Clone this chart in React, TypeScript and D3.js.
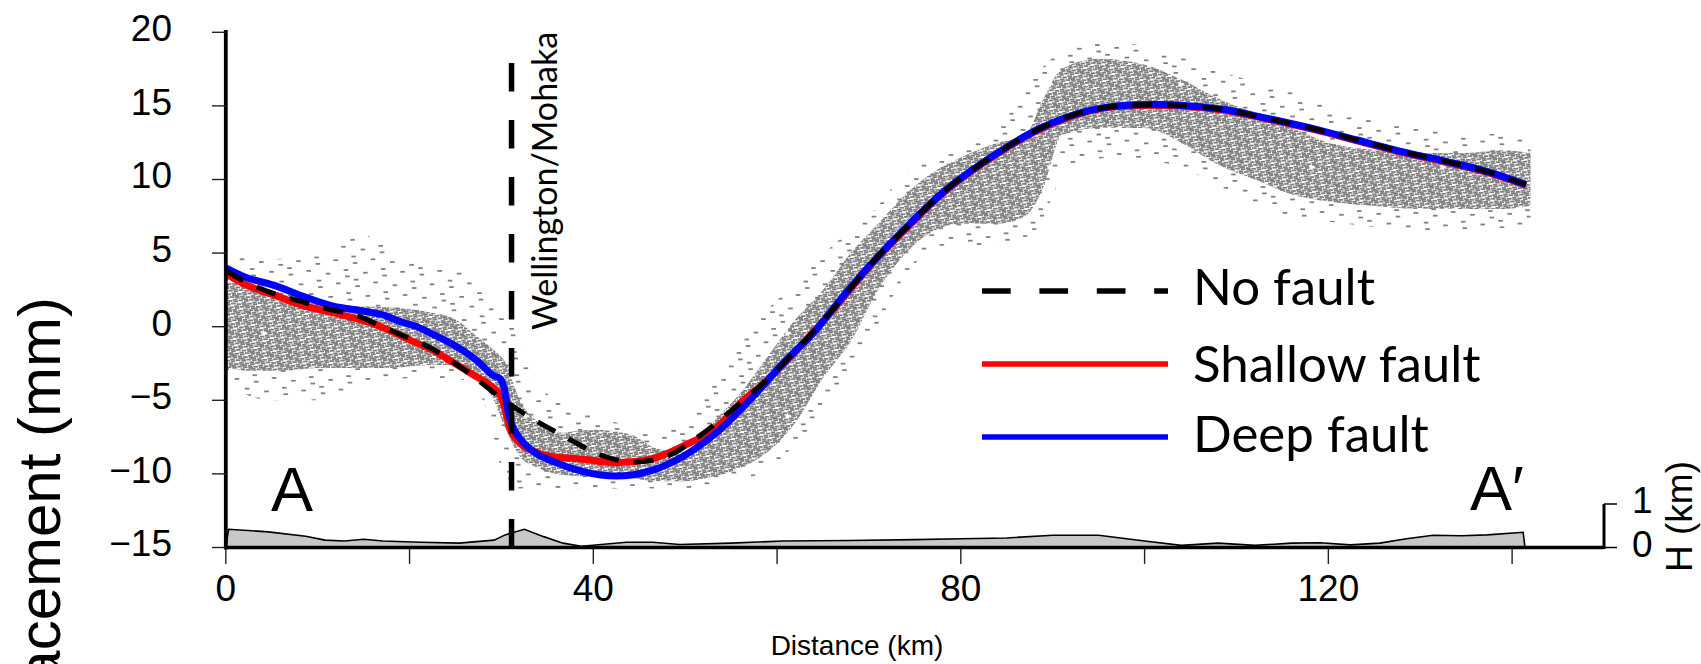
import React, { useEffect, useRef } from 'react';
import * as d3 from 'd3';

const W = 1701;
const H = 664;

// ---- model curves (distance km -> displacement mm) ----
const noFaultKm = [0, 2, 5, 8, 11.5, 14.5, 16.5, 20, 22, 24.5, 27, 29, 31, 33.5, 37, 40.7, 44.4, 48, 51.6, 55.2, 58.9, 62.5, 66.1, 70, 74, 78, 83, 88.7, 93.7, 97, 101, 105, 108.7, 113, 118.7, 123, 128, 133, 137.5, 141.5];
const noFaultMm = [3.8, 3.1, 2.3, 1.75, 1.15, 0.7, 0.15, -0.8, -1.35, -2.3, -3.4, -4.4, -5.3, -6.3, -7.5, -8.7, -9.2, -8.8, -7.4, -5.6, -3.6, -1.3, 1.2, 4.1, 6.7, 9.1, 11.4, 13.5, 14.65, 15.0, 15.1, 15.0, 14.75, 14.2, 13.4, 12.7, 11.9, 11.2, 10.5, 9.65];

const shallowKm = [0, 2, 5.5, 8.1, 12, 15.3, 18, 20, 22.5, 24.4, 27, 29.1, 29.8, 30.4, 30.9, 31.7, 33.5, 35.3, 38.9, 42.5, 46.2, 49.8, 53.4, 56, 58.9, 62.5, 66.1, 70, 74, 78, 83, 88.7, 93.7, 97, 101, 105, 108.7, 113, 118.7, 123, 128, 133, 137.5, 141.5];
const shallowMm = [3.6, 2.9, 2.1, 1.5, 0.9, 0.35, -0.3, -0.9, -1.6, -2.3, -3.3, -4.15, -4.6, -5.6, -6.9, -7.7, -8.45, -8.8, -9.0, -9.24, -9.0, -8.1, -6.86, -5.2, -3.65, -1.35, 1.15, 4.05, 6.65, 9.05, 11.35, 13.45, 14.6, 14.95, 15.05, 14.95, 14.7, 14.15, 13.35, 12.65, 11.85, 11.15, 10.45, 9.6];

const deepKm = [0, 2, 5.5, 8.5, 11.7, 14.5, 17.1, 19.2, 20.8, 22.5, 24.4, 26, 27.5, 29.2, 29.8, 30.3, 30.8, 31.4, 32.1, 33.5, 35.8, 38.9, 42.5, 46.2, 49.8, 53.4, 57.1, 60.7, 64.3, 66.9, 70, 74, 78, 83, 88.7, 93.7, 97, 101, 105, 108.7, 113, 118.7, 123, 128, 133, 137.5, 141.5];
const deepMm = [4.0, 3.4, 2.76, 2.05, 1.4, 1.1, 0.8, 0.3, 0.0, -0.5, -1.1, -1.7, -2.4, -3.35, -3.5, -4.2, -6.0, -7.0, -7.66, -8.5, -9.2, -9.85, -10.15, -9.8, -8.8, -7.2, -4.94, -2.45, -0.18, 1.85, 4.1, 6.7, 9.1, 11.4, 13.5, 14.65, 15.0, 15.1, 15.0, 14.75, 14.2, 13.4, 12.7, 11.9, 11.2, 10.5, 9.65];

// ---- observed scatter cloud envelope (km, mm) ----
const cloudKm = [0, 3, 6, 10, 14, 18, 22, 25, 27, 29, 30.5, 32, 34, 36, 40, 44, 47, 50, 53, 56, 59, 62, 65, 68, 71, 74, 77, 80, 84, 87, 89, 91, 95, 100, 104, 108, 112, 116, 120, 125, 130, 135, 139, 142];
const coreHi = [3.0, 2.8, 2.3, 1.8, 1.4, 1.3, 1.0, 0.5, -0.5, -1.5, -2.5, -5.0, -6.5, -7.2, -7.0, -7.3, -8.3, -8.5, -6.5, -4.5, -2.0, 0.5, 2.5, 5.0, 7.0, 9.0, 10.5, 11.5, 12.5, 13.0, 15.5, 17.5, 18.2, 17.8, 16.8, 15.5, 14.5, 13.5, 12.5, 12.0, 11.8, 11.8, 12.0, 11.8];
const coreLo = [-2.8, -3.0, -3.0, -2.8, -2.8, -2.8, -2.6, -2.6, -3.3, -4.8, -7.0, -8.8, -9.6, -10.0, -10.2, -10.3, -10.5, -10.5, -10.2, -9.6, -8.5, -6.5, -3.5, -1.0, 2.5, 5.0, 6.5, 7.0, 7.0, 7.5, 9.5, 13.0, 13.5, 13.5, 12.5, 11.0, 10.0, 9.0, 8.5, 8.2, 8.0, 8.0, 8.0, 8.2];
const outerKm = [0, 5, 10, 15, 20, 25, 28, 31, 34, 40, 48, 53, 58, 62, 66, 70, 74, 78, 84, 88, 92, 97, 103, 110, 116, 122, 130, 142];
const outerHi = [5.0, 4.6, 4.8, 6.2, 4.5, 4.0, 2.5, 0.5, -4.0, -6.0, -7.0, -4.0, 0.5, 3.0, 5.5, 7.5, 10.5, 12.0, 13.5, 17.0, 19.0, 19.3, 18.5, 17.0, 16.0, 14.5, 13.5, 13.0];
const outerLo = [-4.0, -5.0, -5.0, -4.0, -3.5, -3.5, -5.0, -11.0, -11.0, -11.0, -11.0, -10.8, -10.0, -8.0, -5.0, -1.0, 3.5, 5.5, 5.5, 6.5, 11.0, 11.5, 11.0, 9.0, 7.5, 7.0, 6.5, 6.8];

// ---- topography (km -> elevation km) ----
const topoKm = [0, 0.3, 4.6, 8.7, 10.8, 12.9, 15, 17.1, 21.2, 25.4, 29.2, 30.4, 32.5, 34.6, 36.7, 38.7, 43.6, 46.5, 49.4, 55, 60.7, 67.9, 75, 80, 85, 90, 95, 100, 104, 108, 112, 116, 119.1, 122.4, 125.6, 128.5, 131.4, 134.5, 137.3, 141.2, 141.4];
const topoH = [0, 0.42, 0.36, 0.26, 0.17, 0.15, 0.19, 0.15, 0.12, 0.1, 0.17, 0.29, 0.42, 0.25, 0.1, 0.03, 0.12, 0.12, 0.07, 0.1, 0.15, 0.16, 0.18, 0.2, 0.22, 0.28, 0.28, 0.15, 0.05, 0.1, 0.05, 0.1, 0.11, 0.06, 0.1, 0.2, 0.28, 0.27, 0.29, 0.35, 0];

// ---- axes ----
const yTicks = [20, 15, 10, 5, 0, -5, -10, -15];
const xMinorTicks = [0, 20, 40, 60, 80, 100, 120, 140];
const xLabelTicks = [0, 40, 80, 120];
const hTicks = [1, 0];
const faultKm = 31.1;

const legendItems = [
  { label: 'No fault', color: '#000', dash: '28.7 28.7' },
  { label: 'Shallow fault', color: '#ff0000', dash: null },
  { label: 'Deep fault', color: '#0000ff', dash: null },
];

const ARIAL = '"Liberation Sans", Arial, Helvetica, sans-serif';
const MYRIAD = 'Lato, "Open Sans", sans-serif';

export default function App() {
  const ref = useRef<SVGSVGElement>(null);

  useEffect(() => {
    const svg = d3.select(ref.current);
    svg.selectAll('*').remove();

    const x = d3.scaleLinear().domain([0, 150]).range([225.8, 1604]);
    const y = d3.scaleLinear().domain([-15, 20]).range([547.5, 32.3]);
    const hs = d3.scaleLinear().domain([0, 1]).range([547.5, 504]);

    // stipple texture for the scatter cloud (style only)
    const defs = svg.append('defs');
    const mkPattern = (id: string, w: number, hgt: number, n: number) => {
      const p = defs.append('pattern').attr('id', id).attr('patternUnits', 'userSpaceOnUse')
        .attr('width', w).attr('height', hgt);
      const a1 = 0.7548776662, a2 = 0.5698402910;
      const pts: [number, number][] = [];
      d3.range(n).forEach(i => {
        const px = ((0.37 + i * a1) % 1) * w;
        const py = ((0.61 + i * a2) % 1) * hgt;
        pts.push([px, py]);
        if (px > w - 5) pts.push([px - w, py]);
        if (py > hgt - 2) pts.push([px, py - hgt]);
      });
      p.selectAll('rect').data(pts).join('rect')
        .attr('x', d => d[0]).attr('y', d => d[1]).attr('width', 4.6).attr('height', 1.8)
        .attr('fill', '#808080');
    };
    mkPattern('core', 131, 83, 950);
    mkPattern('outer', 131, 83, 70);

    const outerArea = d3.area<number>().x((_, i) => x(outerKm[i])).y0((_, i) => y(outerLo[i])).y1((_, i) => y(outerHi[i])).curve(d3.curveMonotoneX);
    svg.append('path').attr('d', outerArea(outerKm)).attr('fill', 'url(#outer)');
    const coreArea = d3.area<number>().x((_, i) => x(cloudKm[i])).y0((_, i) => y(coreLo[i])).y1((_, i) => y(coreHi[i])).curve(d3.curveMonotoneX);
    svg.append('path').attr('d', coreArea(cloudKm)).attr('fill', 'url(#core)');

    // topography
    const topoArea = d3.area<number>().x((_, i) => x(topoKm[i])).y0(hs(0)).y1((_, i) => hs(topoH[i]));
    svg.append('path').attr('d', topoArea(topoKm)).attr('fill', '#c8c8c8').attr('stroke', '#000').attr('stroke-width', 1.6);

    // model curves
    const mkLine = (ks: number[], vs: number[]) =>
      d3.line<number>().x((_, i) => x(ks[i])).y((_, i) => y(vs[i])).curve(d3.curveMonotoneX)(ks);
    svg.append('path').attr('d', mkLine(shallowKm, shallowMm)).attr('fill', 'none').attr('stroke', '#ff0000').attr('stroke-width', 7);
    svg.append('path').attr('d', mkLine(deepKm, deepMm)).attr('fill', 'none').attr('stroke', '#0000ff').attr('stroke-width', 7);
    svg.append('path').attr('d', mkLine(noFaultKm, noFaultMm)).attr('fill', 'none').attr('stroke', '#000').attr('stroke-width', 5)
      .attr('stroke-dasharray', '20 15');

    // fault line
    svg.append('line').attr('x1', x(faultKm)).attr('x2', x(faultKm)).attr('y1', 63).attr('y2', 548)
      .attr('stroke', '#000').attr('stroke-width', 5.5).attr('stroke-dasharray', '28.5 28.5');
    svg.append('text').attr('transform', `translate(557,330) rotate(-90)`)
      .attr('font-family', MYRIAD).attr('font-size', 34).attr('fill', '#000').text('Wellington/Mohaka');

    // axes
    svg.append('line').attr('x1', x(0)).attr('x2', x(0)).attr('y1', 30).attr('y2', 549.5).attr('stroke', '#000').attr('stroke-width', 3.8);
    svg.append('line').attr('x1', x(0)).attr('x2', x(150)).attr('y1', y(-15)).attr('y2', y(-15)).attr('stroke', '#000').attr('stroke-width', 3.5);
    svg.selectAll('.yt').data(yTicks).join('line').attr('x1', 212).attr('x2', x(0)).attr('y1', d => y(d)).attr('y2', d => y(d))
      .attr('stroke', '#222').attr('stroke-width', 1.4);
    svg.selectAll('.yl').data(yTicks).join('text').attr('x', 172).attr('y', d => y(d) + 8.8).attr('text-anchor', 'end')
      .attr('font-family', ARIAL).attr('font-size', 37).attr('fill', '#000').text(d => (d < 0 ? '\u2212' + Math.abs(d) : String(d)));
    svg.selectAll('.xt').data(xMinorTicks).join('line').attr('x1', d => x(d)).attr('x2', d => x(d)).attr('y1', 549).attr('y2', 564)
      .attr('stroke', '#222').attr('stroke-width', 1.4);
    svg.selectAll('.xl').data(xLabelTicks).join('text').attr('x', d => x(d)).attr('y', 601).attr('text-anchor', 'middle')
      .attr('font-family', ARIAL).attr('font-size', 37).attr('fill', '#000').text(d => String(d));
    svg.append('text').attr('x', 857).attr('y', 655).attr('text-anchor', 'middle').attr('font-family', ARIAL).attr('font-size', 28)
      .attr('fill', '#000').text('Distance (km)');
    svg.append('text').attr('transform', 'translate(60,297) rotate(-90)').attr('text-anchor', 'end')
      .attr('font-family', ARIAL).attr('font-size', 60).attr('fill', '#000').text('Displacement (mm)');

    // H axis
    svg.append('line').attr('x1', 1604).attr('x2', 1604).attr('y1', hs(1)).attr('y2', hs(0) + 1.5).attr('stroke', '#000').attr('stroke-width', 3);
    svg.selectAll('.ht').data(hTicks).join('line').attr('x1', 1604).attr('x2', 1617).attr('y1', d => hs(d)).attr('y2', d => hs(d))
      .attr('stroke', '#000').attr('stroke-width', 1.5);
    svg.selectAll('.hl').data(hTicks).join('text').attr('x', 1632).attr('y', d => hs(d) + 9).attr('font-family', ARIAL)
      .attr('font-size', 37).attr('fill', '#000').text(d => String(d));
    svg.append('text').attr('transform', 'translate(1692,572) rotate(-90)').attr('font-family', ARIAL).attr('font-size', 37)
      .attr('fill', '#000').text('H (km)');

    // profile end labels
    svg.append('text').attr('x', 271).attr('y', 511).attr('font-family', ARIAL).attr('font-size', 63).attr('fill', '#000').text('A');
    svg.append('text').attr('x', 1470).attr('y', 510).attr('font-family', ARIAL).attr('font-size', 63).attr('fill', '#000').text('A\u2032');

    // legend
    const lineY = [291, 364, 437];
    const textY = [305, 382, 452];
    legendItems.forEach((it, i) => {
      const ln = svg.append('line').attr('x1', 982).attr('x2', 1168).attr('y1', lineY[i]).attr('y2', lineY[i])
        .attr('stroke', it.color).attr('stroke-width', 5.5);
      if (it.dash) ln.attr('stroke-dasharray', it.dash);
      svg.append('text').attr('x', 1193).attr('y', textY[i]).attr('font-family', MYRIAD).attr('font-size', 51)
        .attr('fill', '#000').text(it.label);
    });
  }, []);

  return (
    <svg ref={ref} width={W} height={H} style={{ position: 'absolute', left: 0, top: 0, background: '#fff' }} />
  );
}
